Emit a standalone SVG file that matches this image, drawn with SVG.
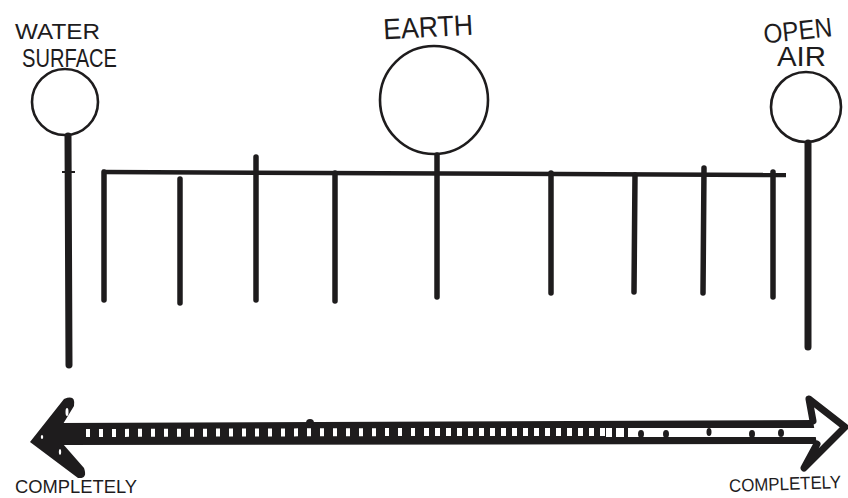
<svg xmlns="http://www.w3.org/2000/svg" width="848" height="498" viewBox="0 0 848 498">
<style>
.bg{fill:#fff}
.ring{fill:#fff;stroke:#1e1c1d;stroke-width:2.6}
.pole{stroke:#1e1c1d;stroke-width:7;stroke-linecap:round;fill:none}
.bar{stroke:#1e1c1d;stroke-width:5.5;stroke-linecap:round;fill:none}
.lbl{font-family:"Liberation Sans","DejaVu Sans",sans-serif;fill:#1e1c1d;font-weight:normal}
.ink{fill:#1e1c1d}
</style>
<rect class="bg" x="0" y="0" width="848" height="498"/>

<g id="water-surface">
  <text class="lbl" x="15" y="39" font-size="22" textLength="85" lengthAdjust="spacingAndGlyphs">WATER</text>
  <text class="lbl" x="22" y="67" font-size="26" textLength="95" lengthAdjust="spacingAndGlyphs">SURFACE</text>
  <circle class="ring" cx="65" cy="102" r="33"/>
  <line class="pole" x1="68" y1="136" x2="69" y2="365"/>
</g>

<g id="earth">
  <text class="lbl" x="383" y="37" font-size="29" textLength="90" lengthAdjust="spacingAndGlyphs" transform="rotate(-3 428 26)">EARTH</text>
  <circle class="ring" cx="434" cy="100" r="54"/>
  <line class="bar" x1="437" y1="155" x2="437" y2="297"/>
</g>

<g id="open-air">
  <text class="lbl" x="763" y="40" font-size="27" textLength="69" lengthAdjust="spacingAndGlyphs" transform="rotate(-6 797 28)">OPEN</text>
  <text class="lbl" x="777" y="66" font-size="27" textLength="49" lengthAdjust="spacingAndGlyphs">AIR</text>
  <circle class="ring" cx="806" cy="107" r="35"/>
  <line class="pole" x1="808" y1="143" x2="808" y2="347"/>
</g>

<g id="scale">
  <path d="M62,172 L75,172" stroke="#1e1c1d" stroke-width="2" fill="none"/>
  <path d="M102,172 L786,175" stroke="#1e1c1d" stroke-width="4.5" fill="none"/>
  <line class="bar" x1="104" y1="172" x2="104" y2="300"/>
  <line class="bar" x1="180" y1="179" x2="180" y2="303"/>
  <line class="bar" x1="256" y1="157" x2="256" y2="300"/>
  <line class="bar" x1="335" y1="173" x2="335" y2="301"/>
  <line class="bar" x1="551" y1="173" x2="551" y2="293"/>
  <line class="bar" x1="635" y1="175" x2="634" y2="292"/>
  <line class="bar" x1="704" y1="168" x2="703" y2="293"/>
  <line class="bar" x1="773" y1="172" x2="773" y2="297"/>
</g>

<g id="connectors">
  <!-- shaft -->
  <path class="ink" d="M58,423 L815,420 L817,444 L58,445 Z"/>
  <!-- white dashes, left/middle section -->
  <path d="M86,433 L420,432" stroke="#fff" stroke-width="8" stroke-dasharray="4 9" fill="none"/>
  <path d="M424,432 L611,432" stroke="#fff" stroke-width="8" stroke-dasharray="5 6" fill="none"/>
  <!-- hollow right section -->
  <rect x="606" y="428" width="212" height="9" fill="#fff"/>
  <g class="ink">
    <rect x="612" y="428" width="4" height="9"/>
    <rect x="624" y="428" width="4" height="9"/>
    <ellipse cx="641" cy="434" rx="3" ry="4"/>
    <ellipse cx="666" cy="434" rx="3" ry="4"/>
    <ellipse cx="709" cy="432" rx="2.5" ry="4"/>
    <ellipse cx="752" cy="434" rx="3" ry="4"/>
    <ellipse cx="781" cy="433" rx="3" ry="4"/>
  </g>
  <circle class="ink" cx="310" cy="423" r="4"/>
  <!-- left head -->
  <path class="ink" d="M30,442 L64,399 Q76,394 74,406 L63,424 L63,444 L84,468 Q88,479 78,478 Z"/>
  <g fill="#fff">
    <ellipse cx="67" cy="412" rx="1.5" ry="4"/>
    <ellipse cx="42" cy="437" rx="1.2" ry="2"/>
    <ellipse cx="60" cy="452" rx="1.2" ry="3"/>
  </g>
  <!-- right head -->
  <path d="M813,421 L809,399 L845,427 L804,468 L817,444" fill="#fff" stroke="#1e1c1d" stroke-width="7" stroke-linejoin="round" stroke-linecap="round"/>
  <text class="lbl" x="15" y="493" font-size="18" textLength="122" lengthAdjust="spacingAndGlyphs">COMPLETELY</text>
  <text class="lbl" x="729" y="490" font-size="18" textLength="112" lengthAdjust="spacingAndGlyphs" transform="rotate(-2 785 483)">COMPLETELY</text>
</g>
</svg>
